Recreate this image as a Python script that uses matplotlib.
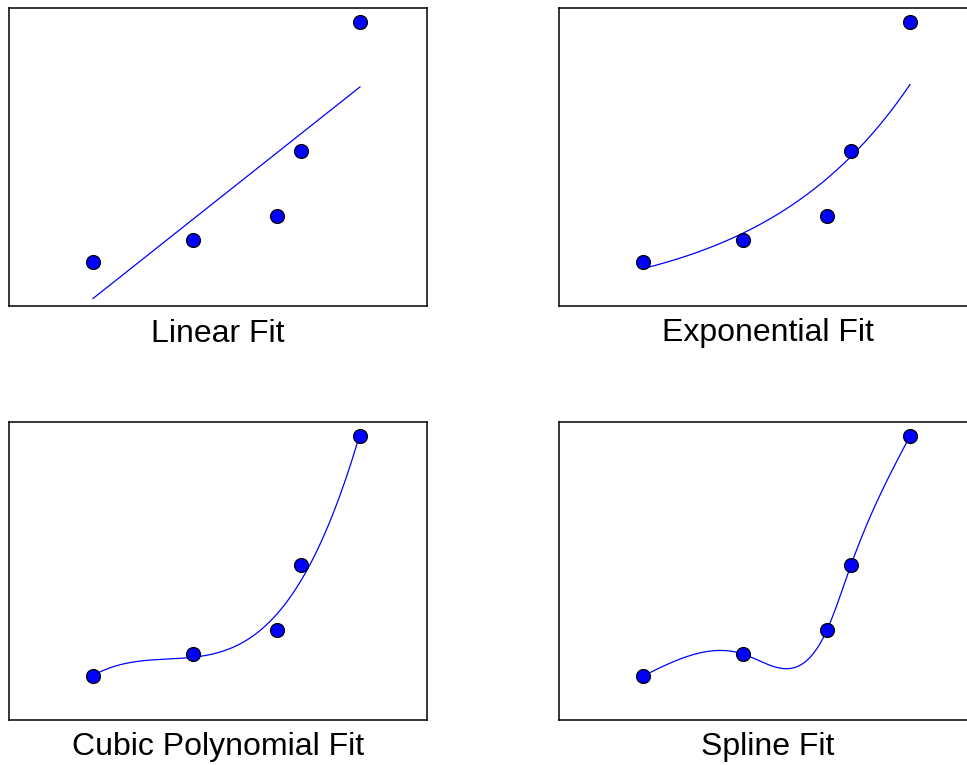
import numpy as np
import matplotlib.pyplot as plt

plt.rcParams['font.family'] = ['Liberation Sans', 'DejaVu Sans']

# sample points
x_data = np.array([1.0, 2.0, 2.84, 3.08, 3.67])
y_data = np.array([0.44, 0.66, 0.90, 1.55, 2.84])
titles = ['Linear Fit', 'Exponential Fit', 'Cubic Polynomial Fit', 'Spline Fit']


def natural_spline(x, y, xs):
    """Natural cubic spline through (x, y), evaluated at xs."""
    n = len(x)
    h = np.diff(x)
    A = np.zeros((n, n))
    r = np.zeros(n)
    A[0, 0] = A[-1, -1] = 1.0
    for i in range(1, n - 1):
        A[i, i - 1] = h[i - 1]
        A[i, i] = 2 * (h[i - 1] + h[i])
        A[i, i + 1] = h[i]
        r[i] = 6 * ((y[i + 1] - y[i]) / h[i] - (y[i] - y[i - 1]) / h[i - 1])
    m = np.linalg.solve(A, r)
    k = np.clip(np.searchsorted(x, xs) - 1, 0, n - 2)
    t0 = x[k + 1] - xs
    t1 = xs - x[k]
    hk = h[k]
    return (m[k] * t0**3 / (6 * hk) + m[k + 1] * t1**3 / (6 * hk)
            + (y[k] / hk - m[k] * hk / 6) * t0
            + (y[k + 1] / hk - m[k + 1] * hk / 6) * t1)


xs = np.linspace(x_data[0], x_data[-1], 300)

lin = np.polyval(np.polyfit(x_data, y_data, 1), xs)
b, log_a = np.polyfit(x_data, np.log(y_data), 1)
expo = np.exp(log_a) * np.exp(b * xs)
cubic = np.polyval(np.polyfit(x_data, y_data, 3), xs)
spline = natural_spline(x_data, y_data, xs)

fits = [lin, expo, cubic, spline]

fig = plt.figure(figsize=(9.67, 7.65), dpi=100)
W, H = 967, 765
boxes = [(9, 8), (559, 8), (9, 422), (559, 422)]

for (left, top), fit, title in zip(boxes, fits, titles):
    ax = fig.add_axes([left / W, 1 - (top + 298) / H, 418 / W, 298 / H])
    ax.plot(xs, fit, color='blue', lw=0.9)
    ax.plot(x_data, y_data, 'o', ms=10, mfc='blue', mec='black', mew=0.9)
    ax.set_xlim(0.16, 4.34)
    ax.set_ylim(0, 2.98)
    ax.set_xticks([])
    ax.set_yticks([])
    for s in ax.spines.values():
        s.set_linewidth(1.1)
    ax.set_xlabel(title, fontsize=23, labelpad=9)

fig.savefig('out.png', dpi=100)
